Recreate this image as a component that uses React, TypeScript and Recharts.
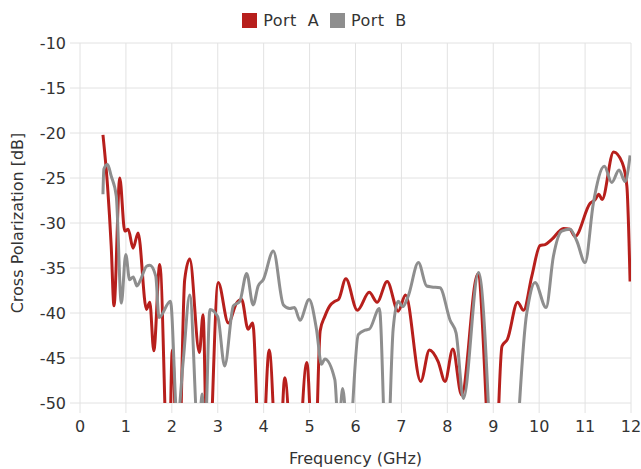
import React from 'react';
import { LineChart, Line, XAxis, YAxis, CartesianGrid } from 'recharts';

// Port A (red) - frequency in GHz and cross-pol in dB
const portAFreq = [
  0.5, 0.6, 0.68, 0.74, 0.866, 0.975, 1.05, 1.156, 1.265, 1.447, 1.52, 1.607, 1.737,
  1.93, 2.01, 2.14, 2.28, 2.39, 2.6, 2.68, 2.78, 3.01, 3.23, 3.41, 3.52, 3.66, 3.76,
  3.94, 4.12, 4.32, 4.46, 4.68, 4.94, 5.1, 5.23, 5.33, 5.44, 5.55, 5.63, 5.79, 6.04,
  6.3, 6.47, 6.69, 6.93, 7.09, 7.42, 7.61, 7.8, 7.95, 8.12, 8.31, 8.66, 9.01, 9.19,
  9.31, 9.53, 9.66, 9.84, 10.02, 10.13, 10.28, 10.53, 10.67, 10.78, 11.11, 11.22,
  11.3, 11.37, 11.62, 11.81, 11.91, 11.98,
];
const portAValue = [
  -20.2, -25.9, -32.6, -39.2, -25.0, -30.9, -30.7, -32.8, -31.1, -39.6, -38.8, -44.2, -34.6,
  -60, -44.1, -60, -36.3, -34.0, -44.4, -40.2, -60, -36.6, -41.1, -38.9, -38.5, -41.8, -41.1,
  -60, -44.1, -60, -47.2, -62, -45.5, -60, -42.0, -40.4, -39.2, -38.7, -38.5, -36.2, -39.7,
  -37.7, -38.8, -36.5, -39.8, -38.0, -47.6, -44.1, -45.4, -47.6, -44.0, -49.1, -35.7, -62, -43.7,
  -42.9, -38.8, -39.7, -35.9, -32.5, -32.4, -31.8, -30.6, -30.7, -31.5, -27.8, -27.4,
  -26.8, -27.4, -22.1, -23.3, -25.9, -36.5,
];

// Port B (gray)
const portBFreq = [
  0.5, 0.52, 0.6, 0.68, 0.79, 0.9, 0.997, 1.08, 1.16, 1.24, 1.32, 1.45, 1.52, 1.65, 1.72,
  1.97, 2.12, 2.25, 2.39, 2.58, 2.66, 2.72, 2.83, 3.0, 3.15, 3.34, 3.48, 3.63, 3.77, 3.88,
  3.99, 4.21, 4.43, 4.57, 4.67, 4.79, 4.99, 5.15, 5.26, 5.33, 5.55, 5.63, 5.72, 5.85, 6.06,
  6.21, 6.3, 6.52, 6.68, 6.82, 6.93, 7.03, 7.15, 7.37, 7.55, 7.66, 7.84, 8.06, 8.19, 8.35,
  8.68, 9.2, 9.73, 9.91, 10.15, 10.31, 10.49, 10.67, 10.82, 11.0, 11.18, 11.42, 11.58,
  11.74, 11.87, 11.98,
];
const portBValue = [
  -26.8, -24.0, -23.5, -24.8, -27.0, -38.9, -33.5, -36.3, -36.0, -37.0, -36.3, -34.8, -34.7, -35.9, -40.5,
  -38.7, -52, -45.2, -38.0, -54, -49.0, -54, -39.6, -40.4, -45.9, -39.2, -38.7, -35.6, -39.1, -37.0,
  -36.3, -33.1, -39.1, -39.5, -39.4, -40.8, -38.5, -41.8, -45.7, -45.1, -47.4, -53, -48.4, -55, -42.4,
  -41.9, -41.8, -39.5, -58, -41.8, -38.7, -39.3, -38.1, -34.4, -37.0, -37.1, -37.2, -40.8, -42.2, -49.5,
  -35.5, -75, -40.0, -36.6, -39.4, -33.7, -30.9, -30.7, -32.0, -34.4, -27.8, -23.7, -25.5,
  -24.1, -25.4, -22.5,
];

const xTicks = [0, 1, 2, 3, 4, 5, 6, 7, 8, 9, 10, 11, 12];
const yTicks = [-50, -45, -40, -35, -30, -25, -20, -15, -10];

const seriesNames = ['Port  A', 'Port  B'];
const seriesColors = ['#B71F1C', '#8E8E8E'];

const portA = portAFreq.map((f, i) => ({ f, v: portAValue[i] }));
const portB = portBFreq.map((f, i) => ({ f, v: portBValue[i] }));

const font = '"DejaVu Sans", sans-serif';
const gridColor = '#e2e2e2';
const textColor = '#333';
const fontSize = 16;

export default function App() {
  return (
    <div style={{ position: 'absolute', left: 0, top: 0, width: 641, height: 469, fontFamily: font }}>
      <div
        style={{
          position: 'absolute',
          top: 11,
          left: 0,
          width: 641,
          display: 'flex',
          justifyContent: 'center',
          gap: 11,
          fontSize: 16,
          letterSpacing: 0.4,
          color: textColor,
          paddingLeft: 4,
        }}
      >
        {seriesNames.map((name, i) => (
          <div key={name} style={{ display: 'flex', alignItems: 'center', whiteSpace: 'pre' }}>
            <span style={{ width: 15, height: 15, background: seriesColors[i], marginRight: 6, display: 'inline-block' }} />
            {name}
          </div>
        ))}
      </div>
      <LineChart width={641} height={469} margin={{ top: 43, right: 10, left: 0, bottom: 0 }}>
        <CartesianGrid stroke={gridColor} />
        <XAxis
          type="number"
          dataKey="f"
          domain={[0, 12]}
          ticks={xTicks}
          allowDataOverflow
          height={66}
          tickSize={10}
          tickMargin={8}
          axisLine={false}
          tickLine={{ stroke: gridColor }}
          tick={{ fill: textColor, fontSize, fontFamily: font }}
          label={{
            value: 'Frequency (GHz)',
            position: 'insideBottom',
            offset: 5,
            style: { fill: textColor, fontSize, fontFamily: font },
          }}
        />
        <YAxis
          type="number"
          domain={[-50, -10]}
          ticks={yTicks}
          allowDataOverflow
          width={80}
          tickSize={10}
          tickMargin={4}
          axisLine={false}
          tickLine={{ stroke: gridColor }}
          tick={{ fill: textColor, fontSize, fontFamily: font }}
          label={{
            value: 'Cross Polarization [dB]',
            angle: -90,
            position: 'insideLeft',
            offset: 17,
            style: { textAnchor: 'middle', fill: textColor, fontSize, fontFamily: font },
          }}
        />
        <Line
          data={portA}
          dataKey="v"
          name={seriesNames[0]}
          type="monotone"
          stroke={seriesColors[0]}
          strokeWidth={3}
          dot={false}
          isAnimationActive={false}
        />
        <Line
          data={portB}
          dataKey="v"
          name={seriesNames[1]}
          type="monotone"
          stroke={seriesColors[1]}
          strokeWidth={3}
          dot={false}
          isAnimationActive={false}
        />
      </LineChart>
    </div>
  );
}
